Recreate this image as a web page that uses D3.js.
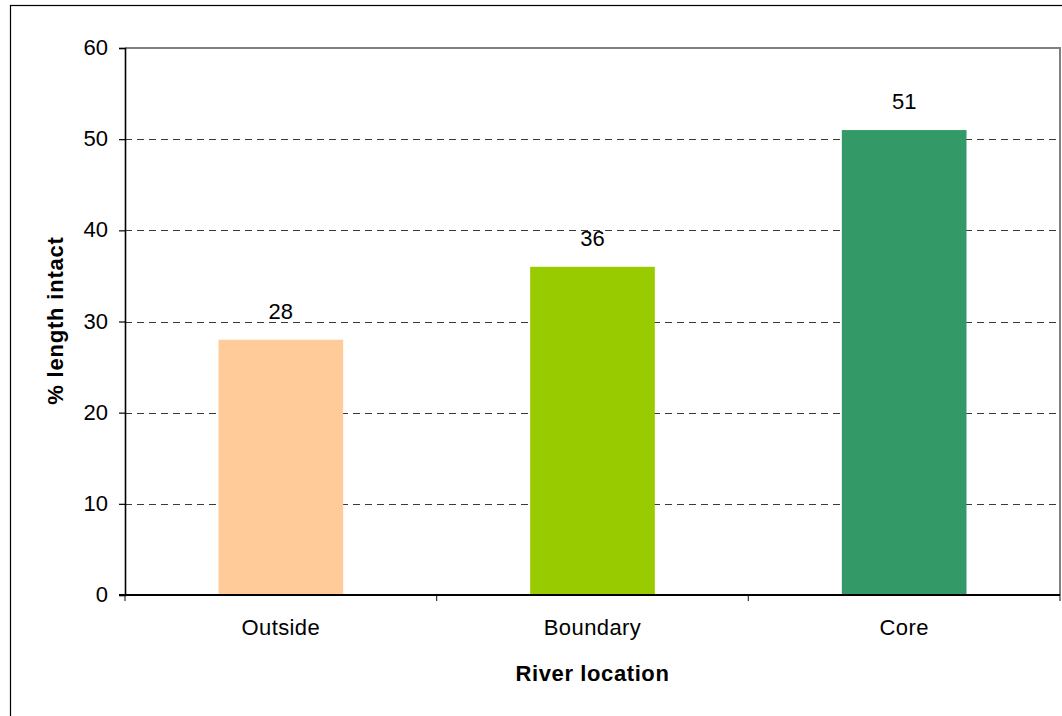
<!DOCTYPE html>
<html>
<head>
<meta charset="utf-8">
<script src="https://cdn.jsdelivr.net/npm/d3@7"></script>
<style>
  html, body { margin: 0; padding: 0; background: #fff; }
  svg { display: block; }
  text { font-family: "Liberation Sans", Arial, sans-serif; fill: #000; }
</style>
</head>
<body>
<svg id="chart" width="1062" height="716"></svg>
<script>
const categories = ["Outside", "Boundary", "Core"];
const values = [28, 36, 51];
const barColors = ["#FFCC99", "#99CC00", "#339966"];
const yTicks = [0, 10, 20, 30, 40, 50, 60];
const xTitle = "River location";
const yTitle = "% length intact";

(function () {
const svg = d3.select("#chart");
const pLeft = 125, pRight = 1060, pTop = 48, pBottom = 595;

// outer chart-area border
svg.append("rect")
  .attr("x", 10.5).attr("y", 5.5)
  .attr("width", 1100).attr("height", 800)
  .attr("fill", "#fff").attr("stroke", "#000").attr("stroke-width", 1.2);

const x = d3.scaleBand().domain(categories).range([pLeft, pRight])
  .paddingInner(0.6).paddingOuter(0.3);
const y = d3.scaleLinear().domain([0, 60]).range([pBottom, pTop]);

// gridlines
svg.append("g").selectAll("line")
  .data(yTicks.filter(t => t > 0 && t < 60))
  .join("line")
  .attr("x1", pLeft).attr("x2", pRight)
  .attr("y1", d => Math.round(y(d)) + 0.5).attr("y2", d => Math.round(y(d)) + 0.5)
  .attr("stroke", "#3a3a3a").attr("stroke-width", 1)
  .attr("stroke-dasharray", "7,5");

// plot area border (top & right)
svg.append("path")
  .attr("d", `M${pLeft},${pTop}H${pRight}V${pBottom}`)
  .attr("fill", "none").attr("stroke", "#808080").attr("stroke-width", 2);

// bars
svg.append("g").selectAll("rect")
  .data(categories)
  .join("rect")
  .attr("x", d => x(d))
  .attr("width", x.bandwidth())
  .attr("y", (d, i) => y(values[i]))
  .attr("height", (d, i) => y(0) - y(values[i]))
  .attr("fill", (d, i) => barColors[i]);

// value labels
svg.append("g").selectAll("text")
  .data(categories)
  .join("text")
  .attr("x", d => x(d) + x.bandwidth() / 2)
  .attr("y", (d, i) => y(values[i]) - 21)
  .attr("text-anchor", "middle")
  .attr("font-size", 22)
  .text((d, i) => values[i]);

// y axis
const yAxis = svg.append("g")
  .attr("transform", `translate(${pLeft},0)`)
  .call(d3.axisLeft(y).tickValues(yTicks).tickSize(6).tickPadding(11).tickFormat(d3.format("d")));
yAxis.select(".domain").attr("stroke", "#000").attr("stroke-width", 1.6);
yAxis.selectAll(".tick line").attr("stroke", "#000").attr("stroke-width", 1.2);
yAxis.selectAll(".tick text")
  .attr("font-size", 22).attr("font-family", "Liberation Sans, Arial, sans-serif")
  .attr("fill", "#000").attr("dy", "0.3em");

// x axis
const step = x.step();
const boundaries = categories.map(c => x(c) - step * x.paddingOuter()).concat([pRight]);
svg.append("g").selectAll("line")
  .data(boundaries)
  .join("line")
  .attr("x1", d => d).attr("x2", d => d)
  .attr("y1", pBottom).attr("y2", pBottom + 6)
  .attr("stroke", "#333").attr("stroke-width", 1.2);
svg.append("line")
  .attr("x1", pLeft - 6).attr("x2", pRight)
  .attr("y1", pBottom).attr("y2", pBottom)
  .attr("stroke", "#000").attr("stroke-width", 1.8);

svg.append("g").selectAll("text")
  .data(categories)
  .join("text")
  .attr("x", d => x(d) + x.bandwidth() / 2)
  .attr("y", 635)
  .attr("text-anchor", "middle")
  .attr("font-size", 22)
  .attr("letter-spacing", 0.4)
  .text(d => d);

// axis titles
svg.append("text")
  .attr("x", (pLeft + pRight) / 2).attr("y", 681)
  .attr("text-anchor", "middle")
  .attr("font-size", 22).attr("font-weight", "bold")
  .attr("letter-spacing", 0.6)
  .text(xTitle);

svg.append("text")
  .attr("transform", `translate(63,${(pTop + pBottom) / 2 - 1}) rotate(-90)`)
  .attr("text-anchor", "middle")
  .attr("font-size", 22).attr("font-weight", "bold")
  .attr("letter-spacing", 0.8)
  .text(yTitle);
})();
</script>
</body>
</html>
